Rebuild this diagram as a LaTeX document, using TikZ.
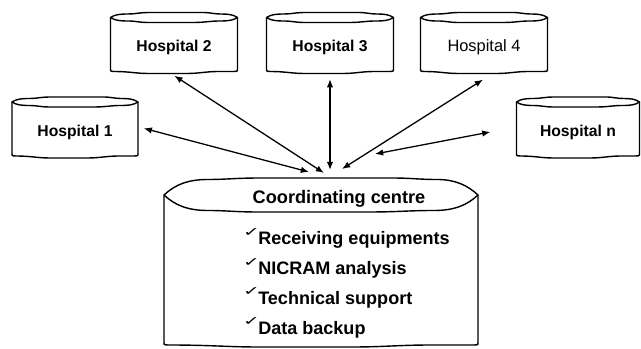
\documentclass[tikz,border=0pt]{standalone}
\usepackage{graphicx}
\usepackage{fontspec}
\setsansfont{Liberation Sans}
\newfontfamily\tickfont{DejaVu Sans}
\usetikzlibrary{arrows.meta}
\newcommand\tick{\raisebox{7.5pt}{\tickfont\fontsize{18}{18}\selectfont\scalebox{.95}[.6]{✓}}\kern-1.5pt}

\begin{document}
\begin{tikzpicture}[x=.03cm, y=-.03cm,
  outline/.style={line width=1.2pt, line join=round},
  link/.style={{Latex[length=7pt,width=5.5pt]}-{Latex[length=7pt,width=5.5pt]}, line width=1.1pt},
  hosp/.style={font=\sffamily\bfseries\fontsize{13.4}{15}\selectfont, inner sep=0pt,
    minimum width=3.81cm, minimum height=1.8cm, text height=16pt, text depth=0pt},
  task/.style={font=\sffamily\bfseries\fontsize{15.4}{18}\selectfont, inner sep=0pt, anchor=base west},
  pics/drum/.style n args={3}{code={
    \pgfmathsetmacro\drw{#1/2}
    \pgfmathsetmacro\drh{#2/2}
    \pgfmathsetmacro\drc{#3}
    % wavy cap
    \draw[outline] (-\drw,-\drh+.5*\drc)
      .. controls (-.93*\drw,-\drh+.2*\drc) and (-.85*\drw,-\drh+1.5) .. (-.72*\drw,-\drh+1.5)
      .. controls (-.6*\drw,-\drh+1.5) and (-.55*\drw,-\drh) .. (-.38*\drw,-\drh)
      -- (.45*\drw,-\drh)
      .. controls (.58*\drw,-\drh) and (.62*\drw,-\drh+1.5) .. (.74*\drw,-\drh+1.5)
      .. controls (.85*\drw,-\drh+1.5) and (.93*\drw,-\drh+.2*\drc) .. (\drw,-\drh+.5*\drc)
      .. controls (.93*\drw,-\drh+.8*\drc) and (.85*\drw,-\drh+\drc-1.5) .. (.72*\drw,-\drh+\drc-1.5)
      .. controls (.55*\drw,-\drh+\drc-1.5) and (.5*\drw,-\drh+\drc) .. (.3*\drw,-\drh+\drc)
      -- (-.4*\drw,-\drh+\drc)
      .. controls (-.55*\drw,-\drh+\drc) and (-.6*\drw,-\drh+\drc-1.5) .. (-.72*\drw,-\drh+\drc-1.5)
      .. controls (-.85*\drw,-\drh+\drc-1.5) and (-.93*\drw,-\drh+.8*\drc) .. cycle;
    % sides and wavy bottom
    \draw[outline] (-\drw,-\drh+.5*\drc) -- (-\drw,\drh-4)
      .. controls (-\drw,\drh-2) and (-\drw-1,\drh-1) .. (-\drw+4,\drh-1)
      .. controls (-.7*\drw,\drh-1) and (-.6*\drw,\drh+1) .. (-.4*\drw,\drh+1)
      -- (.2*\drw,\drh+1)
      .. controls (.4*\drw,\drh+1) and (.5*\drw,\drh-1) .. (.7*\drw,\drh-1)
      -- (\drw-4,\drh-1)
      .. controls (\drw+1,\drh-1) and (\drw,\drh-2) .. (\drw,\drh-4)
      -- (\drw,-\drh+.5*\drc);
  }}]
  \useasboundingbox (0,0) rectangle (641,349);

  \node[hosp] (h1) at (75,127) {Hospital 1};
  \node[hosp] (h2) at (174,42.5) {Hospital 2};
  \node[hosp] (h3) at (330,42.5) {Hospital 3};
  \node[hosp, font=\sffamily\fontsize{14}{16}\selectfont] (h4) at (484,42.5) {Hospital 4};
  \node[hosp, minimum width=3.69cm] (hn) at (578,127) {Hospital n};
  \foreach \n/\w in {h1/126,h2/127,h3/127,h4/127,hn/123}
    \pic at (\n) {drum={\w}{60}{10}};

  \node[minimum width=9.42cm, minimum height=5.04cm] (cc) at (321,262) {};
  \pic at (cc) {drum={314}{168}{34}};
  \node[font=\sffamily\bfseries\fontsize{15.5}{18}\selectfont, inner sep=0pt, anchor=base]
    (ctitle) at (339,203.5) {Coordinating centre};
  \foreach \t [count=\i] in {Receiving equipments, NICRAM analysis, Technical support, Data backup}
    \node[task] (t\i) at (243,{245+29.8*(\i-1)}) {\tick\t};

  % arrow ends above the centre
  \coordinate (e1) at (309,172);
  \coordinate (e2) at (324,173);
  \coordinate (e3) at (330,170);
  \coordinate (e4) at (342,169);
  \coordinate (e5) at (375,154);
  \foreach \a/\b/\s in {h1.east/e1/4.4pt, h2.262/e2/4.7pt, h3.south/e3/5.5pt, h4.288/e4/11pt, hn.west/e5/22.5pt}
    \draw[link, shorten <=\s] (\a) -- (\b);
\end{tikzpicture}
\end{document}
